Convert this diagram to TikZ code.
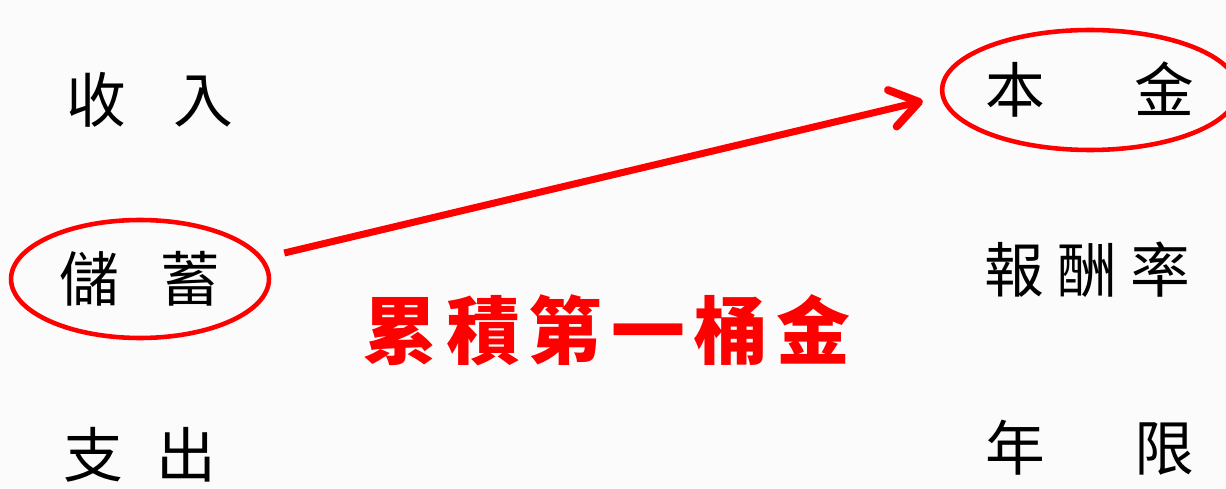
\documentclass[tikz,border=0pt]{standalone}
\usepackage{fontspec}
\usepackage{xcolor}
\usepackage{tikz}
\usetikzlibrary{shapes,arrows.meta,positioning}
\newfontfamily\cjk{Noto Sans CJK TC}
\newfontfamily\cjkwide{Noto Sans CJK TC}[LetterSpace=12]
\definecolor{markred}{RGB}{255,0,0}

\begin{document}
\begin{tikzpicture}[x=0.02cm, y=-0.02cm,
    word/.style={font=\cjk\fontsize{34}{40}\selectfont, inner sep=0pt},
    ring/.style={draw=markred, ellipse, line width=2.6pt},
    every node/.style={anchor=center}]
    \fill[white!97!gray] (0,0) rectangle (1226,489);
    \useasboundingbox (0,0) rectangle (1226,489);

    \node[word] (income) at (150,100) {收\hspace{0.8em}入};
    \node[word, ring, minimum width=5.16cm, minimum height=2.36cm] (savings) at (140,279) {儲\hspace{0.7em}蓄};
    \node[word] (expense) at (140,455) {支\hspace{0.55em}出};

    \node[word, ring, minimum width=5.4cm, minimum height=2.4cm] (principal) at (1090,90) {本\hspace{1.5em}金};
    \node[word] (rate) at (1087,270) {報\hspace{0.22em}酬\hspace{0.22em}率};
    \node[word] (years) at (1090,448) {年\hspace{1.5em}限};

    \node[font=\cjkwide\bfseries\fontsize{42}{48}\selectfont, text=markred, inner sep=0pt] (slogan) at (607,330) {累積第一桶金};

    \draw[markred, line width=4pt, -{Straight Barb[length=0.55cm, width=0.75cm, line width=4.5pt, round]}]
        ([shift={(0.26cm,0.52cm)}]savings.east) -- ([shift={(-0.34cm,-0.22cm)}]principal.west);
\end{tikzpicture}
\end{document}
